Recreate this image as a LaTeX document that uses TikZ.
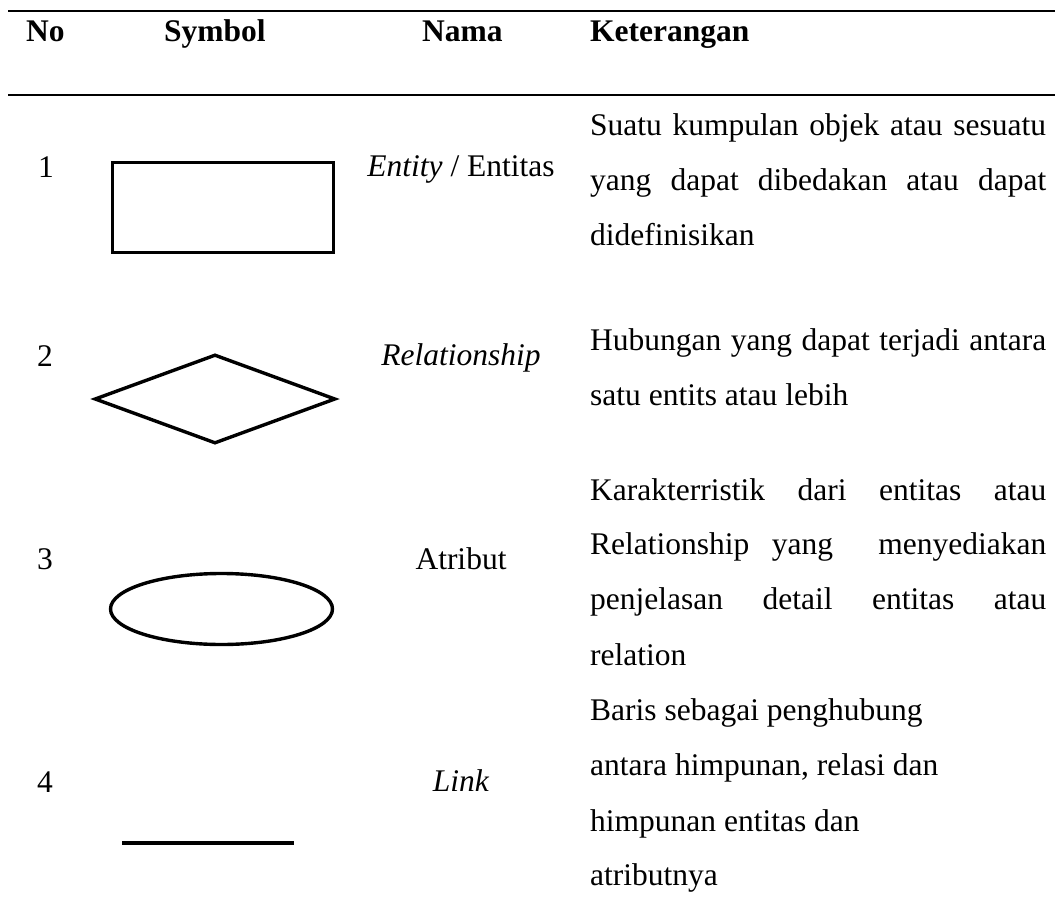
\documentclass[tikz,border=0pt]{standalone}
\usepackage{fontspec}
\setmainfont{Liberation Serif}
\usetikzlibrary{shapes.geometric}
\begin{document}
\begin{tikzpicture}[x=1pt,y=-1pt,
  txt/.style={anchor=base west,inner sep=0pt,font=\fontsize{31.5}{55}\selectfont},
  ctxt/.style={anchor=base,inner sep=0pt,font=\fontsize{31.5}{55}\selectfont},
  head/.style={anchor=base west,inner sep=0pt,font=\fontsize{31.5}{55}\selectfont\bfseries},
  rule/.style={line width=2.6pt},
  symb/.style={draw,line width=3.4pt,inner sep=0pt,fill=none},
  linkline/.style={line width=3.4pt}]
\useasboundingbox (0,0) rectangle (1055,907);
\fill[white] (0,0) rectangle (1055,907);

% table rules
\coordinate (t1) at (8,11);   \coordinate (t2) at (1055,11);
\coordinate (h1) at (8,95);   \coordinate (h2) at (1055,95);
\draw[rule] (t1) -- (t2);
\draw[rule] (h1) -- (h2);

% header
\node[head] (hNo)  at (26,42)  {No};
\node[head] (hSym) at (164,42) {Symbol};
\node[head] (hNam) at (422,42) {Nama};
\node[head] (hKet) at (590,42) {Keterangan};

% row numbers
\node[txt] (n1) at (38,177) {1};
\node[txt] (n2) at (37,366) {2};
\node[txt] (n3) at (37,569) {3};
\node[txt] (n4) at (37,792) {4};

% symbols
\node[symb,rectangle,minimum width=221pt,minimum height=90pt] (entity) at (223,207.5) {};
\node[symb,diamond,minimum width=241pt,minimum height=89pt] (relation) at (215,399) {};
\node[symb,ellipse,minimum width=222pt,minimum height=71pt] (attr) at (221.5,609) {};
\coordinate (linkA) at (122,843);
\coordinate (linkB) at (294,843);
\draw[linkline] (linkA) -- (linkB);

% names
\node[ctxt] (m1) at (461,176) {\textit{Entity} / Entitas};
\node[ctxt] (m2) at (461,365) {\textit{Relationship}};
\node[ctxt] (m3) at (461,569) {Atribut};
\node[ctxt] (m4) at (461,791) {\textit{Link}};

% descriptions
\node[txt] (k1a) at (590,135) {\makebox[456pt][s]{Suatu kumpulan objek atau sesuatu}};
\node[txt] (k1b) at (590,190) {\makebox[456pt][s]{yang dapat dibedakan atau dapat}};
\node[txt] (k1c) at (590,245) {didefinisikan};

\node[txt] (k2a) at (590,350) {\makebox[456pt][s]{Hubungan yang dapat terjadi antara}};
\node[txt] (k2b) at (590,405) {satu entits atau lebih};

\node[txt] (k3a) at (590,500) {\makebox[456pt][s]{Karakterristik dari entitas atau}};
\node[txt] (k3b) at (590,554) {\makebox[456pt][s]{Relationship yang\ \ menyediakan}};
\node[txt] (k3c) at (590,609) {\makebox[456pt][s]{penjelasan detail entitas atau}};
\node[txt] (k3d) at (590,665) {relation};

\node[txt] (k4a) at (590,720) {Baris sebagai penghubung};
\node[txt] (k4b) at (590,775) {antara himpunan, relasi dan};
\node[txt] (k4c) at (590,831) {himpunan entitas dan};
\node[txt] (k4d) at (590,885) {atributnya};
\end{tikzpicture}
\end{document}
